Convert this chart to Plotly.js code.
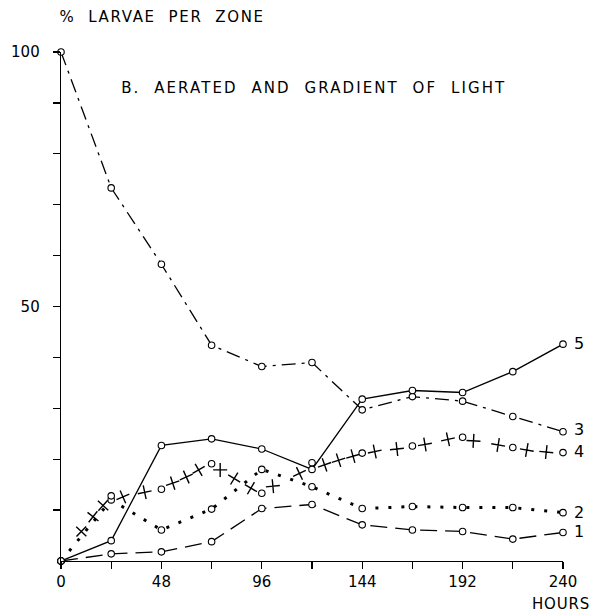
<!DOCTYPE html>
<html>
<head>
<meta charset="utf-8">
<script src="https://cdn.plot.ly/plotly-3.0.1.min.js"></script>
<style>
html,body{margin:0;padding:0;background:#fff;}
g.annotation[data-index="5"] text { letter-spacing: 1.65px; }
g.annotation[data-index="6"] text { letter-spacing: 2.1px; }
g.annotation[data-index="7"] text { letter-spacing: 0.8px; }
</style>
</head>
<body>
<div id="chart" style="width:603px;height:615px;"></div>
<script>
// Hours at which zones were sampled
const hours = [0, 24, 48, 72, 96, 120, 144, 168, 192, 216, 240];

// % larvae per zone
const zone1 = [0, 1.4, 1.8, 3.8, 10.3, 11.1, 7.1, 6.1, 5.8, 4.3, 5.6];
const zone2 = [0, 12.0, 6.1, 10.2, 18.0, 14.6, 10.3, 10.7, 10.5, 10.5, 9.5];
const zone3 = [100, 73.3, 58.3, 42.4, 38.2, 39.0, 29.7, 32.3, 31.4, 28.4, 25.4];
const zone4 = [0, 12.8, 14.1, 19.1, 13.3, 19.3, 21.2, 22.6, 24.3, 22.3, 21.3];
const zone5 = [0, 4.0, 22.7, 24.0, 22.0, 18.0, 31.8, 33.5, 33.1, 37.2, 42.6];

// Cross symbols drawn along the zone-4 curve
const zone4CrossHours = [3.2, 9.7, 15.3, 20.1, 29.6, 40.0, 53.4, 59.9, 65.8, 76.1, 82.8, 90.8, 101.3, 114.0, 126.0, 132.7, 139.6, 150.0, 160.6, 174.0, 185.0, 197.2, 209.0, 222.7, 232.0];
const zone4CrossValues = [3.0, 5.8, 8.7, 10.9, 12.6, 13.5, 15.3, 16.5, 17.9, 17.9, 16.2, 14.3, 14.7, 17.2, 18.9, 19.8, 20.6, 21.5, 22.0, 22.9, 23.9, 23.6, 22.8, 21.8, 21.4];

const seriesLabels = ['1', '2', '3', '4', '5'];
const xTickVals = [0, 24, 48, 72, 96, 120, 144, 168, 192, 216, 240];
const xTickText = ['0', '', '48', '', '96', '', '144', '', '192', '', '240'];
const yTickVals = [10, 20, 30, 40, 50, 60, 70, 80, 90, 100];
const yTickText = ['', '', '', '', '50', '', '', '', '', '100'];

const FONT = 'DejaVu Sans, Liberation Sans, sans-serif';
const circle = {symbol: 'circle', size: 6.5, color: '#fff', line: {width: 1.1, color: '#000'}};

const traces = [
  {x: hours, y: zone1, mode: 'lines+markers', line: {color: '#000', width: 1.3, dash: '17px,8px'}, marker: circle, cliponaxis: false},
  {x: hours, y: zone2, mode: 'lines', line: {color: '#000', width: 3, dash: '3px,10px'}, cliponaxis: false},
  {x: hours, y: zone2, mode: 'markers', marker: circle, cliponaxis: false},
  {x: hours, y: zone3, mode: 'lines+markers', line: {color: '#000', width: 1.3, dash: '14px,6px,3px,6px'}, marker: circle, cliponaxis: false},
  {x: zone4CrossHours, y: zone4CrossValues, mode: 'markers',
   marker: {symbol: 'cross-thin-open', size: 10, angleref: 'previous', color: '#000', line: {width: 1.4, color: '#000'}}, cliponaxis: false},
  {x: hours, y: zone4, mode: 'markers', marker: circle, cliponaxis: false},
  {x: hours, y: zone5, mode: 'lines+markers', line: {color: '#000', width: 1.3}, marker: circle, cliponaxis: false}
];

const labelY = [0.057, 0.096, 0.259, 0.216, 0.428];
const annotations = seriesLabels.map((t, i) => ({
  text: t, xref: 'paper', yref: 'paper', x: 1.032, y: labelY[i],
  xanchor: 'center', yanchor: 'middle', showarrow: false,
  font: {family: FONT, size: 16, color: '#000'}
}));
annotations.push({
  text: '%\u00a0\u00a0LARVAE\u00a0\u00a0PER\u00a0\u00a0ZONE', xref: 'paper', yref: 'paper',
  x: 0.2002, y: 1.0697, xanchor: 'center', yanchor: 'middle', showarrow: false,
  font: {family: FONT, size: 15, color: '#000'}
});
annotations.push({
  text: 'B.\u00a0\u00a0AERATED\u00a0\u00a0AND\u00a0\u00a0GRADIENT\u00a0\u00a0OF\u00a0\u00a0LIGHT', xref: 'paper', yref: 'paper',
  x: 0.5048, y: 0.930, xanchor: 'center', yanchor: 'middle', showarrow: false,
  font: {family: FONT, size: 15, color: '#000'}
});
annotations.push({
  text: 'HOURS', xref: 'paper', yref: 'paper', x: 0.996, y: -0.084,
  xanchor: 'center', yanchor: 'middle', showarrow: false,
  font: {family: FONT, size: 15, color: '#000'}
});

const layout = {
  width: 603, height: 615,
  margin: {l: 61, r: 40, t: 52, b: 54},
  paper_bgcolor: '#fff', plot_bgcolor: '#fff',
  showlegend: false,
  font: {family: FONT, size: 15, color: '#000'},
  xaxis: {
    range: [0, 240], showgrid: false, zeroline: false,
    showline: true, linecolor: '#000', linewidth: 1.3,
    ticks: 'outside', ticklen: 7, tickwidth: 1.3, tickcolor: '#000',
    tickvals: xTickVals, ticktext: xTickText,
    tickfont: {family: FONT, size: 15, color: '#000'}
  },
  yaxis: {
    range: [0, 100], showgrid: false, zeroline: false,
    showline: true, linecolor: '#000', linewidth: 1.3,
    ticks: 'outside', ticklen: 7, tickwidth: 1.3, tickcolor: '#000',
    ticklabelstandoff: 10,
    tickvals: yTickVals, ticktext: yTickText,
    tickfont: {family: FONT, size: 15, color: '#000'}
  },
  annotations: annotations
};

Plotly.newPlot('chart', traces, layout, {displayModeBar: false, staticPlot: true});
</script>
</body>
</html>
